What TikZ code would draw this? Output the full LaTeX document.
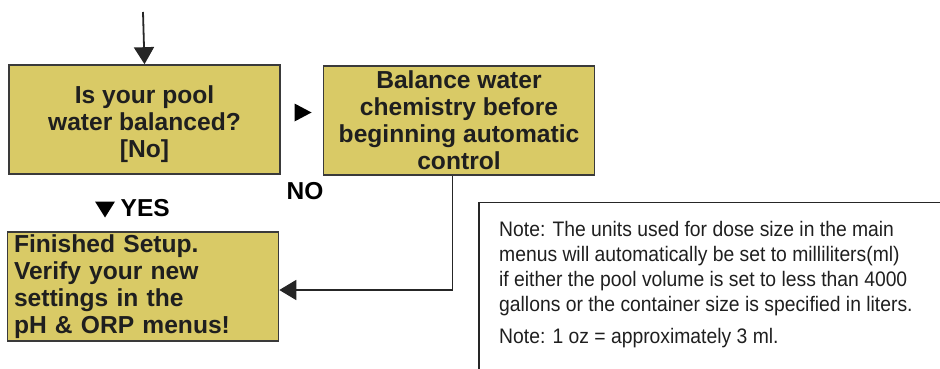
\documentclass[tikz,border=0pt]{standalone}
\usepackage{fontspec}
\setmainfont{Liberation Sans}
\newfontfamily\notefont[FakeStretch=0.92]{Liberation Sans}
\usetikzlibrary{arrows.meta,positioning,calc}
\definecolor{boxfill}{HTML}{D9CA66}
\definecolor{boxline}{HTML}{3A3A3A}

\begin{document}
\begin{tikzpicture}[x=1pt, y=-1pt,
    flowbox/.style={draw=boxline, line width=1.6pt, fill=boxfill, minimum width=271pt, minimum height=109pt, inner sep=0pt, font=\fontsize{24.6}{27}\selectfont\bfseries, align=center, text=black!88},
    flow/.style={draw=black!85, line width=1.8pt, -{Triangle[width=20pt,length=17pt]}},
    tag/.style={font=\fontsize{24.5}{28}\selectfont\bfseries, inner sep=0pt, anchor=north west},
    notetext/.style={font=\notefont\fontsize{21}{25}\selectfont, inner sep=0pt, anchor=north west, align=left, text=black!88}
]
    \useasboundingbox (0,0) rectangle (940,369);

    % Question and action boxes
    \node [flowbox] (ask) at (144.5,119.5) {\rule{0pt}{27pt}Is your pool\\water balanced?\\{}[No]};
    \node [flowbox] (balance) at (459,120.5) {Balance water\\chemistry before\\beginning automatic\\control};
    \node [flowbox, text width=258pt, align=left] (finish) at (143,286.5) {Finished Setup.\\Verify your new\\settings in the\\pH \& ORP menus!};

    % Entry arrow
    \coordinate (entry) at (143,12);
    \draw [flow] (entry) -- (ask.north);

    % NO marker and label
    \fill [black] (294.5,103.5) -- (311.5,112.5) -- (294.5,121.5) -- cycle;
    \node [tag] (no) at (286.5,182) {NO};

    % YES marker and label
    \node [tag] (yes) at (120.5,199) {YES};
    \fill [black] ([xshift=-25.5pt,yshift=-2.5pt]yes.north west) -- ++(20,0) -- ++(-10,16) -- cycle;

    % Return path to finish box
    \draw [flow] ([xshift=-6.5pt]balance.south) |- ([yshift=-3.5pt]finish.east);

    % Note box (open frame)
    \coordinate (notecorner) at (479,202.5);
    \draw [line width=1.6pt, draw=black!85] (940,202.5) -- (notecorner) -- (479,369);
    \node [notetext] (note) at (499,221) {Note: The units used for dose size in the main\\menus will automatically be set to milliliters(ml)\\if either the pool volume is set to less than 4000\\gallons or the container size is specified in liters.\\[6.6pt]Note: 1 oz = approximately 3 ml.};
\end{tikzpicture}
\end{document}
